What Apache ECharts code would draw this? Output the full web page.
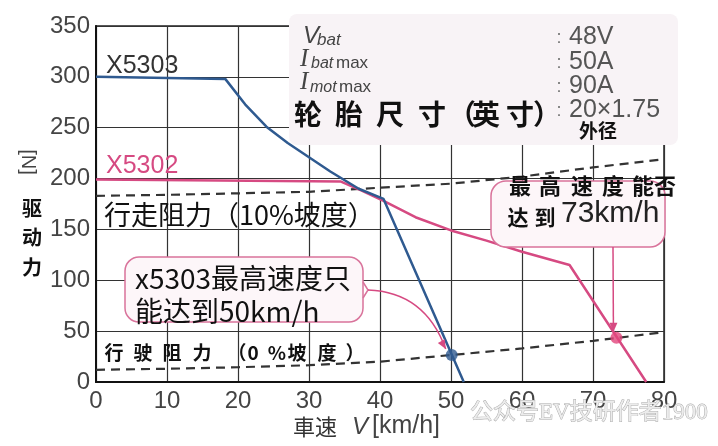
<!DOCTYPE html>
<html><head><meta charset="utf-8">
<script src="https://cdn.jsdelivr.net/npm/echarts@6/dist/echarts.min.js"></script>
<style>html,body{margin:0;padding:0;background:#fff}#c{width:718px;height:446px}</style>
</head><body><div id="c"></div>
<script>
// ---- data ----
const x5303Speed = [0, 18.2, 21, 24, 27, 30, 33, 37, 40.5, 51.8];
const x5303Force = [300, 298, 273, 251, 235, 221, 207, 190, 180, 0];
const x5302Speed = [0, 34.5, 37.5, 40.5, 45, 50, 55, 60, 66.7, 77.5];
const x5302Force = [199, 197, 188, 178, 162, 149, 139, 128, 115, 0];
const resistSpeed = [0, 10, 20, 30, 40, 50, 60, 70, 80];
const resist10 = [183, 184, 185.5, 187, 191, 195, 202, 211, 219];
const resist0 = [12, 13, 14.5, 16.5, 20, 26.5, 33, 40.5, 49];
const blueDot = [50.1, 26.5];
const pinkDot = [73.3, 43.5];
const xTickLabels = ['0','10','20','30','40','50','60','70','80'];
const yTickLabels = ['0','50','100','150','200','250','300','350'];
const specValues = ['48V', '50A', '90A', '20×1.75'];

const pair = (xs, ys) => xs.map((x, i) => [x, ys[i]]);
const SANS = '"Liberation Sans", Arial, sans-serif';
const CJK = '"Noto Sans CJK SC", sans-serif';
const BLUE = '#2f5a90', PINK = '#d64a82', DARK = '#2a2a2a';

const chart = echarts.init(document.getElementById('c'), null, {renderer: 'canvas'});

const option = {
  animation: false,
  backgroundColor: '#ffffff',
  grid: {left: 96, right: 54, top: 26, bottom: 64, show: true, borderColor: '#222', borderWidth: 1.5, backgroundColor: 'transparent'},
  xAxis: {
    type: 'value', min: 0, max: 80, interval: 10,
    axisLine: {show: true, lineStyle: {color: '#111', width: 2}},
    axisTick: {show: false},
    splitLine: {show: true, lineStyle: {color: '#333', width: 1.2}},
    axisLabel: {fontSize: 24, color: '#444', fontFamily: SANS, margin: 7,
      formatter: v => xTickLabels[Math.round(v / 10)]}
  },
  yAxis: {
    type: 'value', min: 0, max: 350, interval: 50,
    axisLine: {show: true, lineStyle: {color: '#111', width: 2}},
    axisTick: {show: false},
    splitLine: {show: true, lineStyle: {color: '#333', width: 1.2}},
    axisLabel: {fontSize: 24, color: '#444', fontFamily: SANS, margin: 6,
      formatter: v => yTickLabels[Math.round(v / 50)]}
  },
  series: [
    {type: 'line', name: 'resist10', data: pair(resistSpeed, resist10), symbol: 'none', z: 4,
      lineStyle: {color: '#333', width: 2.2, type: [9, 6]}},
    {type: 'line', name: 'resist0', data: pair(resistSpeed, resist0), symbol: 'none', z: 4,
      lineStyle: {color: '#333', width: 2.2, type: [9, 6]}},
    {type: 'line', name: 'X5302', data: pair(x5302Speed, x5302Force), symbol: 'none', z: 5,
      lineStyle: {color: PINK, width: 2.5}},
    {type: 'line', name: 'X5303', data: pair(x5303Speed, x5303Force), symbol: 'none', z: 5,
      lineStyle: {color: BLUE, width: 2.5}},
    {type: 'scatter', data: [blueDot], symbolSize: 12, z: 7, itemStyle: {color: BLUE}},
    {type: 'scatter', data: [pinkDot], symbolSize: 12, z: 7, itemStyle: {color: '#e2457c'}}
  ]
};
chart.setOption(option);

function T(x, y, text, font, fill, align, extra) {
  return {type: 'text', x: x, y: y, z: 20,
    style: Object.assign({text: text, font: font, fill: fill || DARK,
      textAlign: align || 'left', align: align || 'left',
      textVerticalAlign: 'middle', verticalAlign: 'middle'}, extra || {})};
}
function charsAt(str, xs, y, font, fill) {
  return Array.from(str).map((ch, i) => T(xs[i], y, ch, font, fill, 'center'));
}
function arrowHead(tip, from, len, half, color) {
  const dx = tip[0] - from[0], dy = tip[1] - from[1];
  const d = Math.sqrt(dx * dx + dy * dy) || 1;
  const ux = dx / d, uy = dy / d;
  const bx = tip[0] - ux * len, by = tip[1] - uy * len;
  return {type: 'polygon', z: 22, shape: {points: [tip, [bx - uy * half, by + ux * half], [bx + uy * half, by - ux * half]]},
    style: {fill: color}};
}

const bp = chart.convertToPixel({xAxisIndex: 0, yAxisIndex: 0}, blueDot);
const pp = chart.convertToPixel({xAxisIndex: 0, yAxisIndex: 0}, pinkDot);

const g = [];
// spec box top right
g.push({type: 'rect', z: 15, shape: {x: 289, y: 14, width: 389, height: 131, r: 8},
  style: {fill: '#f8f3f6', stroke: null}});
g.push(T(303, 36, 'V', 'italic 24px ' + SANS, '#444'));
g.push(T(317, 40, 'bat', 'italic 17px ' + SANS, '#444'));
g.push(T(300, 59, 'I', 'italic 25px "Liberation Serif", serif', '#444'));
g.push(T(311, 64, 'bat', 'italic 16px ' + SANS, '#444'));
g.push(T(336, 63, 'max', '17px ' + SANS, '#444'));
g.push(T(300, 82, 'I', 'italic 25px "Liberation Serif", serif', '#444'));
g.push(T(310, 88, 'mot', 'italic 16px ' + SANS, '#444'));
g.push(T(339, 87, 'max', '17px ' + SANS, '#444'));
const specY = [37, 62, 86, 110];
specValues.forEach((v, i) => {
  g.push(T(559, specY[i] + 1, ':', '18px ' + SANS, '#777', 'center'));
  g.push(T(569, specY[i], v, '25px ' + SANS, '#555'));
});
g.push(...charsAt('轮胎尺寸（英寸）', [308, 349, 390, 432, 462, 486, 520, 547], 114, 'bold 28px ' + CJK, '#111'));
g.push(T(598, 131, '外径', 'bold 19px ' + CJK, '#111', 'center'));

// series names
g.push(T(106, 66, 'X5303', '25px ' + SANS, '#333'));
g.push(T(106, 166, 'X5302', '25px ' + SANS, PINK));

// resistance labels
g.push(T(104, 215, '行走阻力（10%坡度）', '27px ' + CJK, '#111'));
g.push(...charsAt('行驶阻力（0%坡度）', [114, 143, 172, 202, 237, 253, 277, 297, 327, 355], 353, 'bold 19px ' + CJK, '#111'));

// callout 1
g.push({type: 'rect', z: 15, shape: {x: 125, y: 257, width: 238, height: 65, r: 14},
  style: {fill: '#fdf6f9', stroke: '#d9739b', lineWidth: 1.5}});
g.push({type: 'polyline', z: 16, shape: {points: [[363, 282], [368, 290], [363, 298]]},
  style: {stroke: '#d9739b', lineWidth: 1.5, fill: null}});
g.push(T(135, 278, 'x5303最高速度只', '28px ' + CJK, '#111'));
g.push(T(135, 311, '能达到50km/h', '28px ' + CJK, '#111'));
const a1s = [368, 290], a1c = [425, 292], a1e = [bp[0] - 6, bp[1] - 6];
g.push({type: 'bezierCurve', z: 22, shape: {x1: a1s[0], y1: a1s[1], x2: a1e[0], y2: a1e[1], cpx1: a1c[0], cpy1: a1c[1]},
  style: {stroke: '#d64a82', lineWidth: 1.5, fill: null}});
g.push(arrowHead(a1e, [a1e[0] - 5, a1e[1] - 9], 9, 4, '#d64a82'));

// callout 2
g.push({type: 'rect', z: 15, shape: {x: 491, y: 181, width: 174, height: 66, r: 15},
  style: {fill: '#fdf6f9', stroke: '#d9739b', lineWidth: 1.5}});
g.push(...charsAt('最高速度能否', [520, 550, 582, 613, 643, 665], 186, 'bold 22px ' + CJK, '#111'));
g.push(...charsAt('达到', [518, 545], 217, 'bold 21px ' + CJK, '#111'));
g.push(T(561, 214, '73km/h', '30px ' + SANS, '#222'));
const a2s = [613, 247], a2e = [pp[0] - 3, pp[1] - 6];
g.push({type: 'line', z: 22, shape: {x1: a2s[0], y1: a2s[1], x2: a2e[0], y2: a2e[1]},
  style: {stroke: '#d64a82', lineWidth: 1.5}});
g.push(arrowHead(a2e, [a2e[0], a2e[1] - 10], 9, 4, '#d64a82'));

// axis names
const nLabel = T(28, 162, '[N]', '20px ' + SANS, '#444', 'center');
nLabel.rotation = -Math.PI / 2;
g.push(nLabel);
g.push(...['驱', '动', '力'].map((c, i) => T(32, 208 + i * 29.5, c, 'bold 20px ' + CJK, '#111', 'center')));
g.push(T(293, 427, '車速', '22px "Noto Sans CJK JP", sans-serif', '#333'));
g.push(T(352, 427, 'V', 'italic 24px ' + SANS, '#444'));
g.push(T(372, 426, '[km/h]', '25px ' + SANS, '#444'));

// watermark
g.push(T(470, 413, '公众号EV技研作者1900', '23px "Liberation Serif", "Noto Sans CJK SC", serif', '#ececec', 'left',
  {stroke: '#a8a8a8', lineWidth: 0.9}));

chart.setOption({graphic: {elements: g}});
</script></body></html>
